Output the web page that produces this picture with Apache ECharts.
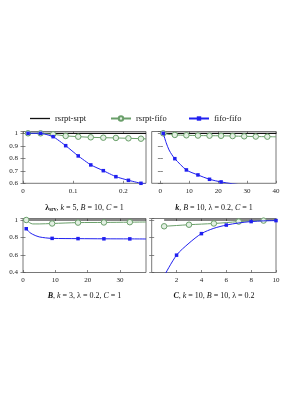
<!DOCTYPE html>
<html><head><meta charset="utf-8">
<script src="https://cdn.jsdelivr.net/npm/echarts@6/dist/echarts.min.js"></script>
<style>html,body{margin:0;padding:0;background:#fff}#c{width:290px;height:410px}</style>
</head><body><div id="c"></div>
<script>
// ---- Data ----
// Panel 1: lambda_srv
const lamX      = [0.01, 0.035, 0.06, 0.085, 0.11, 0.135, 0.16, 0.185, 0.21, 0.235, 0.245];
const lamSrpt   = [1, 1, 1, 1, 1, 1, 1, 1, 1, 1, 1];
const lamRsFifo = [1, 1, 0.992, 0.979, 0.973, 0.968, 0.965, 0.963, 0.960, 0.957, 0.955];
const lamFifo   = [1, 1, 0.973, 0.901, 0.819, 0.747, 0.701, 0.653, 0.624, 0.600, 0.594];
const lamMarks  = [0.01, 0.035, 0.06, 0.085, 0.11, 0.135, 0.16, 0.185, 0.21, 0.235];
// Panel 2: k
const kX      = [1, 2, 3, 4, 5, 9, 13, 17, 21, 25, 29, 33, 37, 40];
const kSrpt   = [1, 1, 1, 1, 1, 1, 1, 1, 1, 1, 1, 1, 1, 1];
const kRsFifo = [1, 0.995, 0.991, 0.989, 0.987, 0.984, 0.982, 0.981, 0.980, 0.978, 0.976, 0.974, 0.973, 0.972];
const kFifo   = [1, 0.925, 0.867, 0.828, 0.797, 0.707, 0.667, 0.632, 0.611, 0.596, 0.585, 0.576, 0.568, 0.563];
const kMarks  = [1, 5, 9, 13, 17, 21, 25, 29, 33, 37];
// Panel 3: B
const bX      = [1, 2, 3, 5, 9, 17, 25, 33, 38];
const bSrpt   = [1, 1, 1, 1, 1, 1, 1, 1, 1];
const bRsFifo = [1, 0.970, 0.955, 0.955, 0.960, 0.970, 0.972, 0.975, 0.977];
const bFifo   = [0.900, 0.860, 0.836, 0.807, 0.790, 0.787, 0.785, 0.784, 0.783];
const bMarks  = [1, 9, 17, 25, 33];
// Panel 4: C
const cX      = [1, 2, 3, 4, 5, 6, 7, 8, 9, 10];
const cSrpt   = [1, 1, 1, 1, 1, 1, 1, 1, 1, 1];
const cRsFifo = [0.928, 0.937, 0.946, 0.953, 0.960, 0.970, 0.982, 0.988, 0.993, 0.995];
const cFifo   = [0.36, 0.598, 0.735, 0.844, 0.905, 0.942, 0.966, 0.982, 0.990, 0.993];
const cMarksG = [1, 3, 5, 7, 9];
const cMarksB = [2, 4, 6, 8, 10];
// Tick labels
const panel1XTicks = [0, 0.1, 0.2];
const panel2XTicks = [0, 10, 20, 30, 40];
const panel3XTicks = [0, 10, 20, 30];
const panel4XTicks = [2, 4, 6, 8, 10];
const seriesNames = ['rsrpt-srpt', 'rsrpt-fifo', 'fifo-fifo'];

// ---- Styling ----
const FONT = 'Liberation Serif';
const FRAME = '#555';
const GREEN = '#6a9f6a', GREEN_FILL = '#e3f0e3', BLUE = '#2020f0', BLACK = '#111';

const grids = [
  {left: 23,    top: 131.5, width: 123,   height: 51.8},
  {left: 151.7, top: 131.5, width: 124.3, height: 51.8},
  {left: 23,    top: 218.5, width: 123,   height: 54},
  {left: 151.7, top: 218.5, width: 124.3, height: 54}
].map(g => Object.assign(g, {show: true, borderColor: FRAME, borderWidth: 0.8, backgroundColor: 'transparent'}));

const xCfg = [
  {min: 0, max: 0.245, ticks: panel1XTicks},
  {min: -3, max: 40, ticks: panel2XTicks},
  {min: 0, max: 38, ticks: panel3XTicks},
  {min: 0, max: 10, ticks: panel4XTicks}
];
const yCfg = [
  {min: 0.6, max: 1.0144, interval: 0.1, labels: true},
  {min: 0.6, max: 1.0144, interval: 0.1, labels: false},
  {min: 0.4, max: 1.017, interval: 0.2, labels: true},
  {min: 0.4, max: 1.017, interval: 0.2, labels: false}
];

const xAxis = [], yAxis = [];
xCfg.forEach((c, i) => {
  const base = {type: 'value', gridIndex: i, min: c.min, max: c.max, splitLine: {show: false},
    axisLine: {show: false}};
  xAxis.push(Object.assign({}, base, {position: 'bottom',
    axisTick: {show: true, inside: true, length: 2.5, lineStyle: {color: FRAME, width: 0.7}, customValues: c.ticks},
    axisLabel: {show: true, fontFamily: FONT, fontSize: 7, color: '#222', margin: 4, customValues: c.ticks,
      formatter: v => String(+v.toFixed(3))}}));
  xAxis.push(Object.assign({}, base, {position: 'top',
    axisTick: {show: true, inside: true, length: 2.5, lineStyle: {color: FRAME, width: 0.7}, customValues: c.ticks},
    axisLabel: {show: false}}));
});
yCfg.forEach((c, i) => {
  const base = {type: 'value', gridIndex: i, min: c.min, max: c.max, interval: c.interval,
    splitLine: {show: false}, axisLine: {show: false},
    axisTick: {show: true, inside: true, length: 2.5, lineStyle: {color: FRAME, width: 0.7}}};
  yAxis.push(Object.assign({}, base, {position: 'left',
    axisLabel: {show: c.labels, fontFamily: FONT, fontSize: 7, color: '#222', margin: 5, showMaxLabel: false,
      formatter: v => String(+v.toFixed(3))}}));
  yAxis.push(Object.assign({}, base, {position: 'right', axisLabel: {show: false}}));
});

function pts(xs, ys, marks) {
  return xs.map((x, j) => marks && marks.indexOf(x) >= 0 ? [x, ys[j]] : {value: [x, ys[j]], symbol: 'none'});
}
function mk(name, gi, xs, ys, marks, kind, smooth) {
  const s = {name: name, type: 'line', xAxisIndex: gi * 2, yAxisIndex: gi * 2, data: pts(xs, ys, marks),
    smooth: smooth || false, clip: true, animation: false, z: 2};
  if (kind === 'black') {
    Object.assign(s, {symbol: 'none', lineStyle: {color: BLACK, width: 1.2}, itemStyle: {color: BLACK}, z: 1});
  } else if (kind === 'green') {
    Object.assign(s, {symbol: 'circle', symbolSize: 5.5, showAllSymbol: true,
      lineStyle: {color: GREEN, width: 1}, itemStyle: {color: GREEN_FILL, borderColor: GREEN, borderWidth: 1}, z: 2});
  } else {
    Object.assign(s, {symbol: 'rect', symbolSize: 3.5, showAllSymbol: true,
      lineStyle: {color: BLUE, width: 1}, itemStyle: {color: BLUE}, z: 3});
  }
  return s;
}
const series = [
  mk(seriesNames[0], 0, lamX, lamSrpt, null, 'black'),
  mk(seriesNames[1], 0, lamX, lamRsFifo, lamMarks, 'green'),
  mk(seriesNames[2], 0, lamX, lamFifo, lamMarks, 'blue', 0.15),
  mk(seriesNames[0], 1, kX, kSrpt, null, 'black'),
  mk(seriesNames[1], 1, kX, kRsFifo, kMarks, 'green', 0.2),
  mk(seriesNames[2], 1, kX, kFifo, kMarks, 'blue', 0.3),
  mk(seriesNames[0], 2, bX, bSrpt, null, 'black'),
  mk(seriesNames[1], 2, bX, bRsFifo, bMarks, 'green', 0.3),
  mk(seriesNames[2], 2, bX, bFifo, bMarks, 'blue', 0.3),
  mk(seriesNames[0], 3, cX, cSrpt, null, 'black'),
  mk(seriesNames[1], 3, cX, cRsFifo, cMarksG, 'green', 0.3),
  mk(seriesNames[2], 3, cX, cFifo, cMarksB, 'blue', 0.3)
];

const legendPos = [30, 110, 188];
const legend = seriesNames.map((n, i) => {
  const l = {data: [n], left: legendPos[i], top: 114, itemWidth: 20, itemHeight: 5.5, itemGap: 4, padding: 0,
    selectedMode: false, textStyle: {fontFamily: FONT, fontSize: 8.5, color: '#111'}};
  if (i === 0) {
    l.data = [{name: n, icon: 'rect'}];
    l.itemHeight = 1.3;
  }
  return l;
});

const rich = {
  r: {fontFamily: FONT, fontSize: 8, fill: '#111'},
  b: {fontFamily: FONT, fontSize: 8, fontWeight: 'bold', fill: '#111'},
  bi: {fontFamily: FONT, fontSize: 8, fontWeight: 'bold', fontStyle: 'italic', fill: '#111'},
  i: {fontFamily: FONT, fontSize: 8, fontStyle: 'italic', fill: '#111'},
  sub: {fontFamily: FONT, fontSize: 5.5, fontWeight: 'bold', fill: '#111', padding: [4, 0, 0, 0]}
};
function title(x, y, txt) {
  return {type: 'text', x: x, y: y, style: {text: txt, rich: rich, align: 'center', verticalAlign: 'middle',
    fontFamily: FONT, fontSize: 8, fill: '#111'}};
}
const graphic = [
  title(84.5, 208, '{b|λ}{sub|srv}{r|, }{i|k}{r| = 5, }{i|B}{r| = 10, }{i|C}{r| = 1}'),
  title(214, 208, '{bi|k}{r|, }{i|B}{r| = 10, λ = 0.2, }{i|C}{r| = 1}'),
  title(84.5, 296, '{bi|B}{r|, }{i|k}{r| = 3, λ = 0.2, }{i|C}{r| = 1}'),
  title(214, 296, '{bi|C}{r|, }{i|k}{r| = 10, }{i|B}{r| = 10, λ = 0.2}')
];

const chart = echarts.init(document.getElementById('c'), null, {renderer: 'canvas'});
chart.setOption({animation: false, backgroundColor: '#fff', grid: grids, xAxis: xAxis, yAxis: yAxis,
  series: series, legend: legend, graphic: graphic});
</script></body></html>
